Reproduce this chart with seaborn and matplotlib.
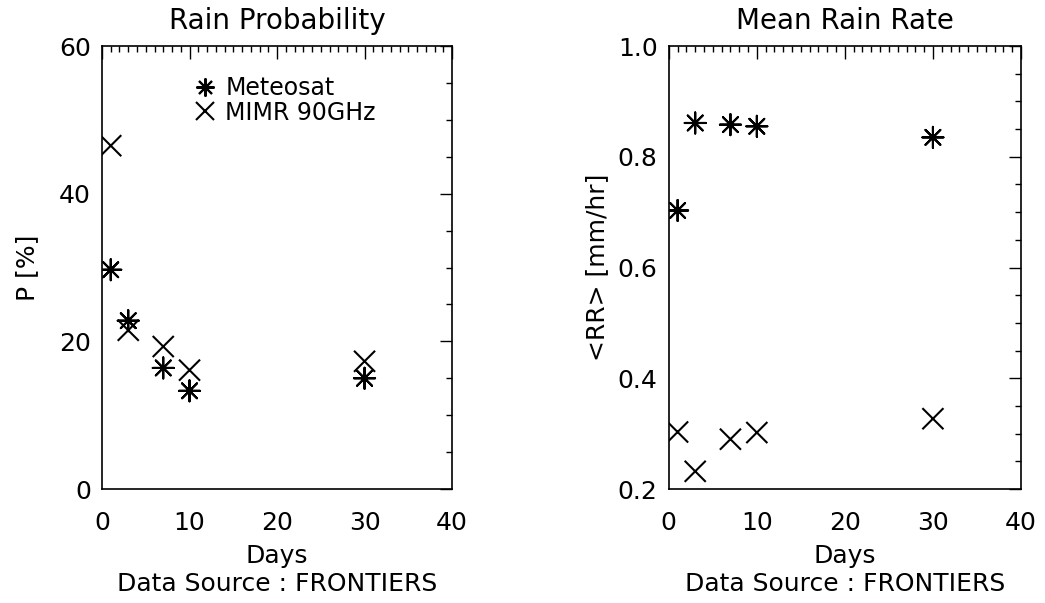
import numpy as np
import pandas as pd
import matplotlib
matplotlib.use("Agg")
import matplotlib.pyplot as plt
import seaborn as sns
from matplotlib.ticker import MultipleLocator, FormatStrFormatter
from matplotlib.lines import Line2D

days = [1, 3, 7, 10, 30]
prob_meteosat = [29.7, 22.8, 16.4, 13.3, 15.0]
prob_mimr = [46.5, 21.5, 19.3, 16.1, 17.3]
rate_meteosat = [0.703, 0.861, 0.858, 0.855, 0.835]
rate_mimr = [0.303, 0.232, 0.290, 0.302, 0.327]
series_names = ["Meteosat", "MIMR 90GHz"]

sns.set_style("white")
plt.rcParams['font.family'] = ['DejaVu Sans']
plt.rcParams['text.color'] = 'black'
plt.rcParams['axes.labelcolor'] = 'black'
plt.rcParams['xtick.color'] = 'black'
plt.rcParams['ytick.color'] = 'black'

df_p = pd.DataFrame({"Days": days * 2,
                     "val": prob_meteosat + prob_mimr,
                     "src": [series_names[0]] * 5 + [series_names[1]] * 5})
df_r = pd.DataFrame({"Days": days * 2,
                     "val": rate_meteosat + rate_mimr,
                     "src": [series_names[0]] * 5 + [series_names[1]] * 5})

fig = plt.figure(figsize=(10.45, 6.03), dpi=100)
ax1 = fig.add_axes([0.0976, 0.189, 0.335, 0.7347])
ax2 = fig.add_axes([0.640, 0.189, 0.337, 0.7347])

FS = 18
markers = {series_names[0]: (8, 2, 0), series_names[1]: "x"}
for ax, df in [(ax1, df_p), (ax2, df_r)]:
    sns.scatterplot(data=df, x="Days", y="val", style="src", markers=markers,
                    color="black", s=230, linewidth=1.5, ax=ax, legend=False,
                    edgecolor="black")

def style_axes(ax, ymin, ymax, ymaj, ymin_step):
    ax.set_xlim(0, 40)
    ax.set_ylim(ymin, ymax)
    ax.xaxis.set_major_locator(MultipleLocator(10))
    ax.xaxis.set_minor_locator(MultipleLocator(1))
    ax.yaxis.set_major_locator(MultipleLocator(ymaj))
    ax.yaxis.set_minor_locator(MultipleLocator(ymin_step))
    ax.tick_params(which="both", direction="in", top=True, right=True,
                   color="black", width=1.0, labelsize=FS, labelcolor="black")
    ax.tick_params(axis="x", which="both", pad=16)
    ax.tick_params(axis="y", which="both", pad=8)
    ax.tick_params(which="major", length=9)
    ax.tick_params(which="minor", length=4)
    for sp in ax.spines.values():
        sp.set_visible(True)
        sp.set_color("black")
        sp.set_linewidth(1.2)
    ax.set_xlabel("Days\nData Source : FRONTIERS", fontsize=FS, linespacing=1.25,
                  color="black", labelpad=6)

style_axes(ax1, 0, 60, 20, 5)
style_axes(ax2, 0.2, 1.0, 0.2, 0.05)
ax2.yaxis.set_major_formatter(FormatStrFormatter("%.1f"))

ax1.set_ylabel("P [%]", fontsize=FS, color="black", labelpad=14)
ax2.set_ylabel("<RR> [mm/hr]", fontsize=FS, color="black", labelpad=6)
ax1.set_title("Rain Probability", fontsize=20, pad=12, color="black")
ax2.set_title("Mean Rain Rate", fontsize=20, pad=12, color="black")

handles = [Line2D([], [], linestyle="none", marker=markers[n], color="black",
                  markersize=13, markeredgewidth=1.5) for n in series_names]
ax1.legend(handles, series_names, loc="upper left", bbox_to_anchor=(0.20, 0.98),
           frameon=False, fontsize=17, handletextpad=0.35, labelspacing=0.02,
           handlelength=1.0, labelcolor="black")

fig.savefig("out.png", dpi=100)
